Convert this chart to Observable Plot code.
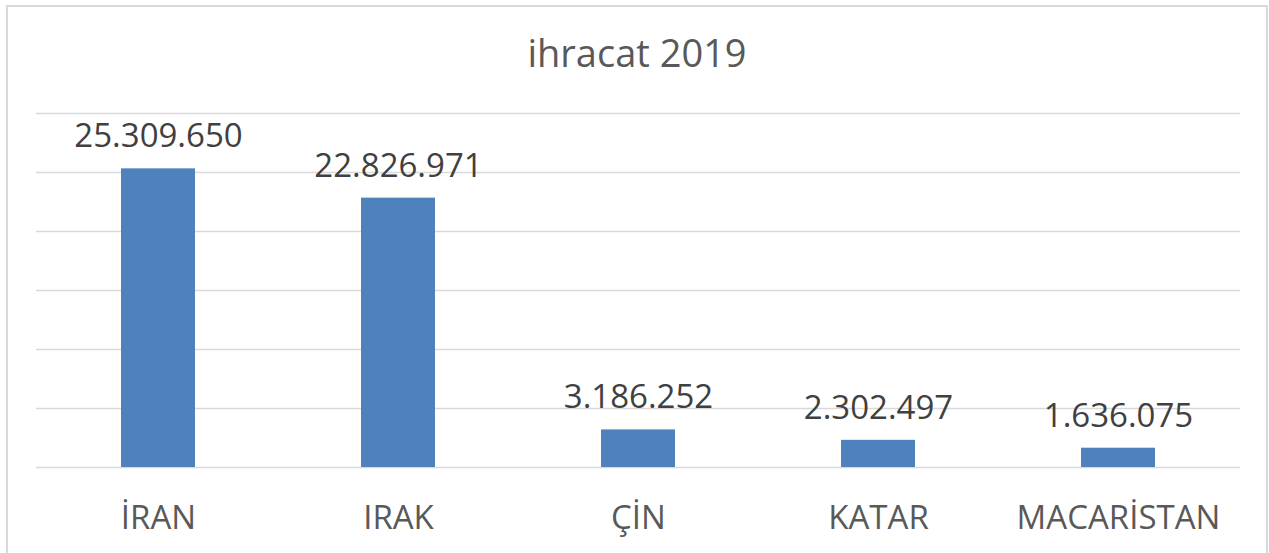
<!DOCTYPE html>
<html>
<head>
<meta charset="utf-8">
<script src="https://cdn.jsdelivr.net/npm/d3@7"></script>
<script src="https://cdn.jsdelivr.net/npm/@observablehq/plot@0.6"></script>
<style>
  html, body { margin: 0; padding: 0; background: #fff; }
  #chart { position: relative; width: 1269px; height: 553px; overflow: hidden; font-family: "Open Sans", sans-serif; }
  #frame { position: absolute; left: 6px; top: 5px; width: 1262px; height: 600px; border: 2px solid #d9d9d9; box-sizing: border-box; }
  #title { position: absolute; left: 0; top: 33px; width: 1274px; text-align: center; font-size: 38px; line-height: 38px; color: #595959; }
  #plot { position: absolute; left: 0; top: 90px; }
</style>
</head>
<body>
<div id="chart">
  <div id="frame"></div>
  <div id="title">ihracat 2019</div>
  <div id="plot"></div>
</div>
<script>
const titleText = "ihracat 2019";
const countries = ["İRAN", "IRAK", "ÇİN", "KATAR", "MACARİSTAN"];
const exports2019 = [25309650, 22826971, 3186252, 2302497, 1636075];
const gridTicks = [0, 5000000, 10000000, 15000000, 20000000, 25000000, 30000000];

const data = countries.map((c, i) => ({country: c, value: exports2019[i]}));
const fmt = d3.formatLocale({decimal: ",", thousands: ".", grouping: [3], currency: ["", ""]}).format(",d");

const chart = Plot.plot({
  width: 1269,
  height: 463,
  marginTop: 23,
  marginBottom: 86,
  marginLeft: 36,
  marginRight: 29,
  style: {fontFamily: "Open Sans, sans-serif", background: "transparent", overflow: "visible"},
  x: {domain: countries, paddingInner: 0.69, paddingOuter: 0.345, label: null},
  y: {domain: [0, 30000000], axis: null},
  marks: [
    Plot.ruleY(gridTicks, {stroke: "#d9d9d9", strokeWidth: 1.5}),
    Plot.barY(data, {x: "country", y: "value", fill: "#4f81bd"}),
    Plot.text(data, {x: "country", y: "value", text: d => fmt(d.value), dy: -32, fontSize: 33, fill: "#404040"}),
    Plot.axisX({tickSize: 0, tickPadding: 38, fontSize: 33, color: "#595959", label: null})
  ]
});
document.getElementById("plot").appendChild(chart);
</script>
</body>
</html>
